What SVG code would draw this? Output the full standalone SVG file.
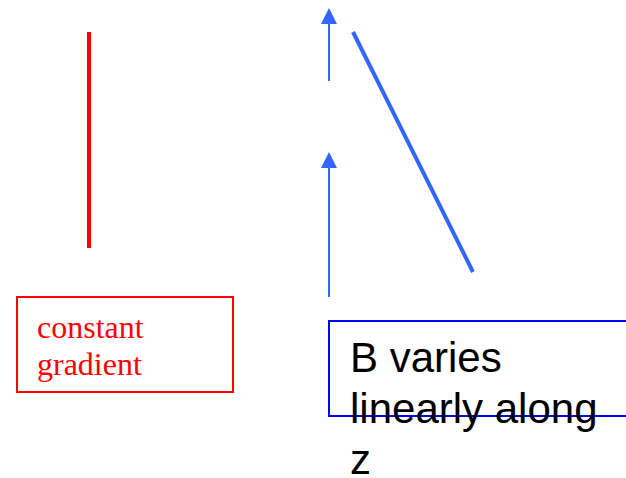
<svg xmlns="http://www.w3.org/2000/svg" width="626" height="478" viewBox="0 0 626 478">
<style>
.arrow{stroke:#3366ff;stroke-width:2;fill:none}
.red{font-family:"Liberation Serif",serif;font-size:32px;fill:#ff0000}
.blk{font-family:"Liberation Sans",Arial,sans-serif;font-size:42px;fill:#000000}
</style>
<defs>
<marker id="ah" viewBox="0 0 16 16" markerWidth="16" markerHeight="16" refX="8" refY="1" orient="auto-start-reverse" markerUnits="userSpaceOnUse">
<path d="M0,16 L8,0 L16,16 Z" fill="#3366ff"/>
</marker>
</defs>
<g id="red-line"><line x1="89" y1="32" x2="89" y2="248" stroke="#ff0000" stroke-width="4"/></g>
<g id="diag-line"><line x1="353" y1="32" x2="473" y2="272" stroke="#3366ff" stroke-width="4"/></g>
<g id="connectors">
<line class="arrow" x1="329" y1="81" x2="329" y2="24"/>
<path d="M321,24 L329,8 L337,24 Z" fill="#3366ff"/>
<line class="arrow" x1="329" y1="297" x2="329" y2="168"/>
<path d="M321,168 L329,152 L337,168 Z" fill="#3366ff"/>
</g>
<g id="node-constant">
<rect x="17" y="297" width="216" height="95" fill="none" stroke="#ff0000" stroke-width="2"/>
<text class="red" x="37" y="338">constant</text>
<text class="red" x="37" y="375">gradient</text>
</g>
<g id="node-bvaries">
<rect x="329" y="321" width="310" height="95" fill="none" stroke="#0000ff" stroke-width="2"/>
<text class="blk" x="350" y="372">B varies</text>
<text class="blk" x="350" y="423">linearly along</text>
<text class="blk" x="350" y="474">z</text>
</g>
</svg>
